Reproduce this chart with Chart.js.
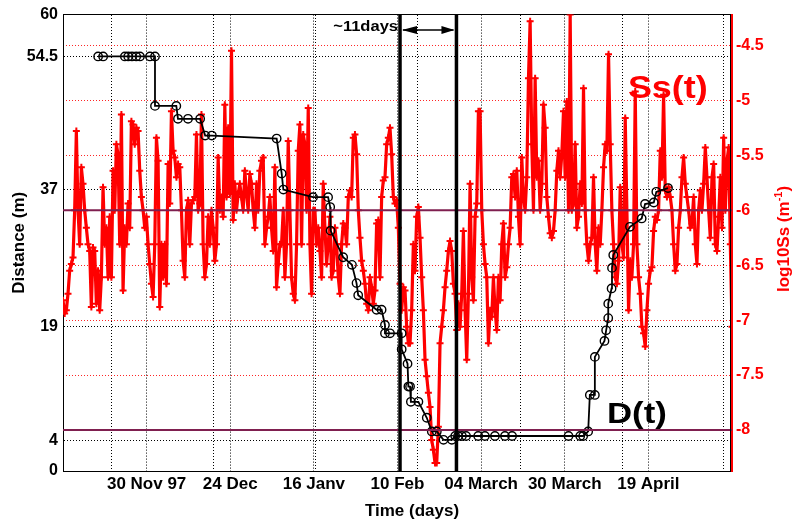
<!DOCTYPE html>
<html lang="en">
<head>
  <meta charset="UTF-8">
  <title>D(t) and Ss(t)</title>
  <script src="https://cdn.jsdelivr.net/npm/chart.js"></script>
  <style>
    html, body { margin: 0; padding: 0; background: #fff; }
    #wrap { width: 795px; height: 523px; }
  </style>
</head>
<body>
  <div id="wrap"><canvas id="chart" width="795" height="523"></canvas></div>
  <script>
    // time axis (arbitrary day units, 0..160 across the plot)
    const dayRange = [0, 160];
    const dateTickDays = [20, 40, 60, 80, 100, 120, 140];
    const dateLabels = ['30 Nov 97', '24 Dec', '16 Janv', '10 Feb', '04 March', '30 March', '19 April'];
    const minorGridDays = [11.7, 36.1, 60.5, 84.9, 109.3, 133.7, 158.0];

    // left axis: distance (m)
    const distRange = [0, 60];
    const distTicks = [0, 4, 19, 37, 54.5, 60];

    // right axis: log10 Ss
    const ssRange = [-8.373, -4.22];
    const ssTicks = [-8, -7.5, -7, -6.5, -6, -5.5, -5, -4.5];

    // Ss(t), evenly spaced in time over the whole record
    const ssValues = [
      -6.82, -6.94, -6.91, -6.76, -6.55, -6.49, -6.43, -6.00, -5.28, -6.00,
      -6.31, -5.61, -5.76, -6.00, -6.16, -6.31, -6.37, -6.88, -6.34, -6.37,
      -6.85, -6.55, -6.91, -6.61, -5.79, -6.31, -6.16, -6.61, -6.06, -6.61,
      -5.64, -6.00, -5.40, -5.49, -6.31, -5.13, -6.73, -6.16, -6.31, -5.94,
      -6.16, -5.19, -5.22, -5.40, -5.25, -5.28, -5.64, -5.88, -6.00, -6.16,
      -6.06, -6.31, -6.49, -6.67, -6.79, -6.31, -5.34, -5.55, -6.88, -6.31,
      -6.61, -6.31, -6.67, -5.58, -5.94, -5.10, -5.46, -5.52, -5.70, -5.58,
      -5.61, -6.00, -6.46, -6.61, -6.00, -5.91, -6.31,
      -5.94, -5.91, -5.88, -5.31, -6.00, -5.94, -5.13, -6.31, -6.61, -6.49,
      -6.06, -6.31, -6.00, -6.16, -6.46, -6.31, -5.52, -6.00, -5.88, -6.06,
      -5.04, -5.88, -5.25, -5.85, -4.55, -6.09, -5.76, -6.00, -5.85, -5.76,
      -5.88, -6.00, -5.64, -5.85, -6.00, -5.67, -5.76, -6.00, -6.16, -5.76,
      -6.00, -5.64, -5.55, -5.52, -6.31, -6.16, -6.06, -5.88, -6.16, -6.37,
      -5.61, -6.70, -6.49, -6.31, -6.31, -6.00, -6.61, -6.31, -5.37, -6.00,
      -6.61, -6.76, -6.82, -6.31, -5.46, -5.22, -6.31, -5.31, -5.40, -6.00,
      -5.07, -6.31, -6.76, -6.00, -6.00,
      -6.31, -6.16, -6.37, -6.61, -5.76, -6.16, -6.49, -6.31, -6.06, -6.61,
      -6.55, -6.16, -6.31, -6.61, -6.76, -6.31, -6.12, -6.16, -6.31, -5.88,
      -5.82, -5.88, -5.34, -5.31, -5.49, -6.00, -6.25, -6.46, -6.55, -6.67,
      -6.85, -6.91, -6.61, -6.70, -6.85, -6.73, -6.12, -6.09, -6.61, -5.88,
      -5.73, -5.70, -5.40, -5.34, -5.25, -5.49, -5.88, -5.94, -5.91, -6.16,
      -6.67, -6.91, -6.70, -6.73, -7.06, -7.21, -7.21, -6.91, -6.31, -6.55,
      -6.06, -5.97, -6.25, -6.61, -6.91, -7.36, -7.51, -7.66, -7.79, -8.09,
      -8.18, -8.30, -8.30, -7.97, -7.21,
      -7.06, -6.91, -6.70, -6.55, -6.37, -6.28, -6.37, -6.67, -6.76, -7.09,
      -6.85, -7.06, -6.76, -6.19, -6.91, -7.36, -6.76, -5.76, -6.61, -6.82,
      -6.06, -5.94, -5.10, -5.10, -6.00, -6.31, -6.49, -6.61, -7.21, -6.91,
      -6.97, -6.61, -6.91, -7.09, -6.61, -6.82, -6.31, -6.12, -6.61, -6.52,
      -6.31, -6.16, -5.70, -5.67, -5.88, -5.64, -6.06, -6.31, -5.52, -5.88,
      -6.00, -5.70, -4.80, -4.28, -5.40, -6.00, -4.80, -5.70, -5.55, -6.00,
      -5.76, -5.04, -5.25, -5.88, -6.06, -6.21, -6.25, -6.19, -6.00, -5.64,
      -5.46, -5.70, -5.49, -5.10, -5.70,
      -5.01, -6.00, -4.22, -6.00, -5.94, -5.40, -6.16, -6.06, -5.76, -5.94,
      -4.89, -6.00, -6.31, -6.46, -6.31, -6.25, -5.70, -6.31, -6.55, -6.16,
      -6.31, -6.00, -5.61, -5.40, -5.46, -4.58, -5.40, -6.00, -6.31, -6.61,
      -6.67, -6.46, -5.79, -6.31, -6.43, -5.16, -6.00, -6.91, -6.46, -6.61,
      -6.31, -4.92, -6.31, -6.61, -6.76, -7.06, -7.12, -7.24, -6.91, -6.67,
      -6.55, -6.52, -6.19, -6.06, -6.09, -6.00, -5.46, -5.70, -4.95, -5.82,
      -5.88, -5.79, -5.88, -6.00, -6.31, -6.55, -6.49, -6.16, -6.00, -5.70,
      -5.52, -5.76, -5.88, -6.00, -6.16,
      -6.12, -5.88, -6.31, -6.49, -6.00, -5.82, -6.00, -5.76, -5.43, -5.70,
      -6.00, -6.25, -5.70, -5.58, -6.31, -6.37, -6.06, -5.70, -6.16, -5.34,
      -6.00, -5.55, -5.43, -6.31, -7.06
    ];

    // D(t)
    const dDays = [
      8.4, 9.6, 14.8, 15.6, 16.5, 17.5, 18.4, 20.8, 22.0, 22.0,
      27.1, 27.5, 29.9, 32.8, 34.0, 35.6, 51.1, 52.3, 52.7, 59.8,
      63.4, 63.9, 64.0, 67.0, 69.1, 70.2, 70.6, 75.0, 76.2, 77.0,
      77.0, 78.2, 81.0, 81.0, 82.4, 82.6, 83.0, 83.2, 85.0, 87.0,
      88.2, 89.4, 91.0, 93.0, 93.8, 94.5, 95.4, 96.4, 99.3, 100.9,
      103.3, 105.7, 107.4, 120.9, 123.7, 124.4, 125.6, 126.0, 127.2, 127.2,
      129.5, 129.9, 130.4, 130.4, 131.2, 131.3, 131.6, 135.6, 138.4, 139.2,
      141.3, 141.9, 144.7
    ];
    const dValues = [
      54.5, 54.5, 54.5, 54.5, 54.5, 54.5, 54.5, 54.5, 54.5, 48.0,
      48.0, 46.3, 46.3, 46.3, 44.1, 44.1, 43.7, 39.1, 37.0, 36.0,
      36.0, 34.7, 31.6, 28.1, 27.1, 24.7, 23.1, 21.2, 21.2, 19.2,
      18.1, 18.1, 18.1, 16.0, 14.1, 11.1, 11.1, 9.1, 9.1, 7.0,
      5.2, 5.2, 4.1, 4.1, 4.6, 4.6, 4.6, 4.6, 4.6, 4.6,
      4.6, 4.6, 4.6, 4.6, 4.6, 4.6, 5.2, 10.0, 10.0, 15.0,
      17.1, 18.5, 20.1, 22.0, 24.0, 26.7, 28.4, 32.1, 33.2, 35.1,
      35.3, 36.7, 37.2
    ];

    // markers
    const eventDays = [80.6, 94.1];
    const ssThresholds = [-6, -8];

    const FONT = "'Liberation Sans', Arial, sans-serif";

    function stretchText(ctx, text, x, y, o) {
      ctx.save();
      ctx.font = o.font;
      ctx.fillStyle = o.color;
      ctx.textAlign = o.align || 'left';
      ctx.textBaseline = 'alphabetic';
      ctx.translate(x, y);
      if (o.rotate) ctx.rotate(o.rotate);
      ctx.scale(o.sx || 1, 1);
      ctx.fillText(text, 0, 0);
      ctx.restore();
    }

    const overlay = {
      id: 'overlay',
      afterDraw(chart) {
        const ctx = chart.ctx;
        const area = chart.chartArea;
        const xs = chart.scales.x, yl = chart.scales.yL, yr = chart.scales.yR;

        // thin black frame edge just inside the red right axis
        ctx.save();
        ctx.strokeStyle = '#000';
        ctx.lineWidth = 1;
        ctx.beginPath();
        ctx.moveTo(area.right - 1.5, area.top);
        ctx.lineTo(area.right - 1.5, area.bottom);
        ctx.stroke();
        ctx.restore();

        // axis titles
        stretchText(ctx, 'Distance (m)', 24, (area.top + area.bottom) / 2,
          { font: 'bold 17px ' + FONT, color: '#000', align: 'center', rotate: -Math.PI / 2 });
        stretchText(ctx, 'Time (days)', 412, 516, { font: 'bold 17px ' + FONT, color: '#000', align: 'center' });

        // right title with superscript
        ctx.save();
        ctx.translate(789, 239);
        ctx.rotate(-Math.PI / 2);
        ctx.fillStyle = '#ff0000';
        ctx.textBaseline = 'alphabetic';
        const f1 = 'bold 17px ' + FONT, f2 = 'bold 11px ' + FONT;
        ctx.font = f1; const w1 = ctx.measureText('log10Ss (m').width; const w3 = ctx.measureText(')').width;
        ctx.font = f2; const w2 = ctx.measureText('-1').width;
        let px = -(w1 + w2 + w3) / 2;
        ctx.font = f1; ctx.fillText('log10Ss (m', px, 0); px += w1;
        ctx.font = f2; ctx.fillText('-1', px, -7); px += w2;
        ctx.font = f1; ctx.fillText(')', px, 0);
        ctx.restore();

        // series labels
        stretchText(ctx, 'Ss(t)', xs.getPixelForValue(135.1), yr.getPixelForValue(-4.98),
          { font: 'bold 31px ' + FONT, color: '#ff0000', sx: 1.16 });
        stretchText(ctx, 'D(t)', xs.getPixelForValue(130.1), yl.getPixelForValue(6.35),
          { font: 'bold 29px ' + FONT, color: '#000', sx: 1.2 });

        // ~11days arrow between the event lines
        const e1 = xs.getPixelForValue(eventDays[0]), e2 = xs.getPixelForValue(eventDays[1]);
        const ay = 30;
        stretchText(ctx, '~11days', e1 - 2, ay + 1, { font: 'bold 14px ' + FONT, color: '#000', align: 'right', sx: 1.18 });
        ctx.save();
        ctx.strokeStyle = '#000';
        ctx.fillStyle = '#000';
        ctx.lineWidth = 1.5;
        ctx.beginPath();
        ctx.moveTo(e1 + 3, ay); ctx.lineTo(e2 - 3, ay);
        ctx.stroke();
        ctx.beginPath();
        ctx.moveTo(e1 + 2, ay); ctx.lineTo(e1 + 17, ay - 4); ctx.lineTo(e1 + 17, ay + 4); ctx.closePath();
        ctx.moveTo(e2 - 2, ay); ctx.lineTo(e2 - 15, ay - 4); ctx.lineTo(e2 - 15, ay + 4); ctx.closePath();
        ctx.fill();
        ctx.restore();
      }
    };

    const ssPoints = ssValues.map((v, i) => ({
      x: dayRange[0] + i * (dayRange[1] - dayRange[0]) / (ssValues.length - 1),
      y: v
    }));
    const dPoints = dDays.map((d, i) => ({ x: d, y: dValues[i] }));

    const datasets = [];
    eventDays.forEach(d => datasets.push({
      data: [{ x: d, y: distRange[0] }, { x: d, y: distRange[1] }],
      yAxisID: 'yL', borderColor: '#000', borderWidth: 3.5, pointRadius: 0, order: 0, clip: 0
    }));
    ssThresholds.forEach(v => datasets.push({
      data: [{ x: dayRange[0], y: v }, { x: dayRange[1], y: v }],
      yAxisID: 'yR', borderColor: '#7f1f4f', borderWidth: 2, pointRadius: 0, order: 1, clip: 0
    }));
    datasets.push({
      label: 'D(t)', data: dPoints, yAxisID: 'yL',
      borderColor: '#000', borderWidth: 1.8,
      pointStyle: 'circle', pointRadius: 4.2, pointBackgroundColor: 'rgba(0,0,0,0)',
      pointBorderColor: '#000', pointBorderWidth: 1.4,
      order: 2, clip: 0
    });
    datasets.push({
      label: 'Ss(t)', data: ssPoints, yAxisID: 'yR',
      borderColor: '#ff0000', borderWidth: 3.2, borderJoinStyle: 'round',
      pointStyle: 'cross', pointRadius: 3.5, pointBorderColor: '#ff0000', pointBorderWidth: 2,
      order: 3, clip: 0
    });

    new Chart(document.getElementById('chart').getContext('2d'), {
      type: 'line',
      data: { datasets },
      options: {
        responsive: false,
        animation: false,
        devicePixelRatio: 1,
        layout: { padding: { top: 13, left: 0, right: 0, bottom: 0 } },
        elements: { line: { tension: 0 } },
        plugins: { legend: { display: false }, tooltip: { enabled: false } },
        scales: {
          x: {
            type: 'linear', position: 'bottom', min: dayRange[0], max: dayRange[1],
            afterBuildTicks: s => { s.ticks = dateTickDays.map(v => ({ value: v })); },
            afterFit: s => { s.height = 52; },
            ticks: {
              autoSkip: false, maxRotation: 0, padding: 3, color: '#000',
              font: { family: FONT, size: 17, weight: 'bold' },
              callback: (v, i) => dateLabels[i]
            },
            grid: { color: '#000', lineWidth: 1, drawTicks: false },
            border: { display: true, color: '#000', width: 1, dash: [1, 2] }
          },
          x2: {
            type: 'linear', position: 'top', min: dayRange[0], max: dayRange[1],
            afterBuildTicks: s => { s.ticks = minorGridDays.map(v => ({ value: v })); },
            afterFit: s => { s.height = 0; },
            ticks: { display: false },
            grid: { color: '#000', lineWidth: 1, drawTicks: false },
            border: { display: true, color: '#000', width: 1, dash: [1, 2] }
          },
          yL: {
            type: 'linear', position: 'left', min: distRange[0], max: distRange[1],
            afterBuildTicks: s => { s.ticks = distTicks.map(v => ({ value: v })); },
            afterFit: s => { s.width = 63; },
            ticks: {
              padding: 5, color: '#000',
              font: { family: FONT, size: 16, weight: 'bold' },
              callback: v => String(v)
            },
            grid: {
              drawTicks: false, lineWidth: 1,
              color: c => (c.tick && (c.tick.value === distRange[0] || c.tick.value === distRange[1])) ? 'rgba(0,0,0,0)' : '#000'
            },
            border: { display: true, color: '#000', width: 1, dash: [1, 2] }
          },
          yR: {
            type: 'linear', position: 'right', min: ssRange[0], max: ssRange[1],
            afterBuildTicks: s => { s.ticks = ssTicks.map(v => ({ value: v })); },
            afterFit: s => { s.width = 63; },
            ticks: {
              padding: 4, color: '#ff0000',
              font: { family: FONT, size: 16, weight: 'bold' },
              callback: v => String(v)
            },
            grid: { drawTicks: false, lineWidth: 1, color: 'rgba(255,0,0,0.85)' },
            border: { display: true, color: '#ff0000', width: 2, dash: [1, 2] }
          }
        }
      },
      plugins: [overlay]
    });
  </script>
</body>
</html>
